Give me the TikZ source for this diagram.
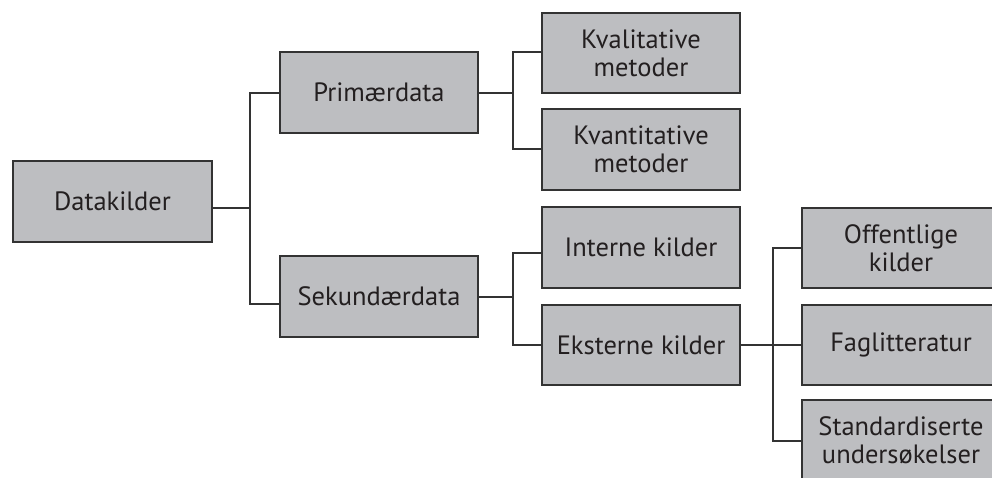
\documentclass[tikz,border=0pt]{standalone}
\usepackage{fontspec}
\setmainfont{PT Sans}
\definecolor{boxfill}{HTML}{BDBEC1}
\definecolor{boxline}{HTML}{333333}
\definecolor{txt}{HTML}{231F20}
\begin{document}
\begin{tikzpicture}[x=1pt,y=-1pt,
  box/.style={draw=boxline, fill=boxfill, line width=2pt, minimum width=198pt, minimum height=80pt,
    inner sep=0pt, align=center, text=txt, font=\fontsize{26.5}{28}\selectfont},
  conn/.style={draw=boxline, line width=2pt}]
\clip (0,0) rectangle (992,477);
\fill[white] (0,0) rectangle (992,477);
\node[box, minimum width=199pt, minimum height=81pt] (dk) at (112.5,201.5) {Datakilder};
\node[box, minimum height=81pt] (pd) at (379,92.5) {Primærdata};
\node[box, minimum height=81pt] (sd) at (379,296.5) {Sekundærdata};
\node[box] (kl) at (641,53) {Kvalitative\\metoder};
\node[box, minimum height=81pt] (kn) at (641,149.5) {Kvantitative\\metoder};
\node[box, minimum height=81pt] (ik) at (641,247.5) {Interne kilder};
\node[box] (ek) at (641,345) {Eksterne kilder};
\node[box] (of) at (901,248) {Offentlige\\kilder};
\node[box] (fl) at (901,345) {Faglitteratur};
\node[box] (st) at (901,440) {Standardiserte\\undersøkelser};
% trunk
\coordinate (t1) at (250,93);
\coordinate (d1) at (250,208);
\coordinate (t2) at (250,304);
\draw[conn] (dk.east |- d1) -- (d1);
\draw[conn] (pd.west |- t1) -- (t1) -- (t2) -- (sd.west |- t2);
% primærdata branch
\coordinate (p1) at (512.5,52);
\coordinate (p2) at (512.5,149);
\draw[conn] (pd.east) -- (pd.east -| p1);
\draw[conn] (kl.west |- p1) -- (p1) -- (p2) -- (kn.west |- p2);
% sekundærdata branch
\coordinate (s1) at (512.5,253);
\coordinate (s2) at (512.5,345);
\draw[conn] (sd.east) -- (sd.east -| s1);
\draw[conn] (ik.west |- s1) -- (s1) -- (s2) -- (ek.west |- s2);
% eksterne branch
\coordinate (e1) at (773,248);
\coordinate (e2) at (773,441);
\draw[conn] (ek.east) -- (fl.west);
\draw[conn] (of.west |- e1) -- (e1) -- (e2) -- (st.west |- e2);
\end{tikzpicture}
\end{document}
